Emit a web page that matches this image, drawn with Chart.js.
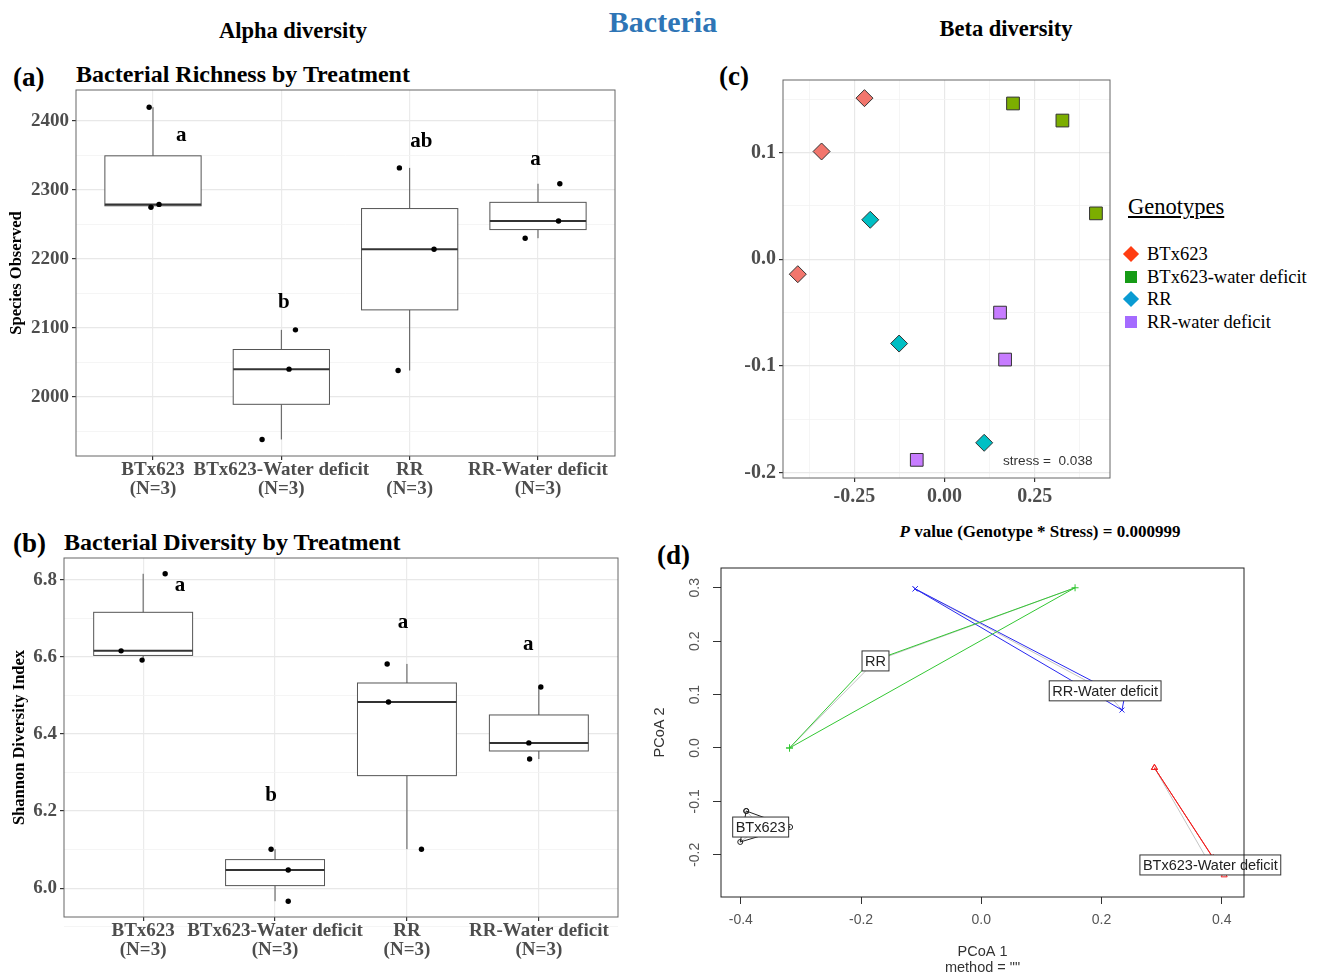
<!DOCTYPE html>
<html lang="en">
<head>
<meta charset="utf-8">
<title>Bacteria - alpha and beta diversity</title>
<script src="https://cdn.jsdelivr.net/npm/chart.js@4.4.1/dist/chart.umd.min.js"></script>
<style>
  html, body { margin: 0; padding: 0; background: #fff; }
  body { position: relative; width: 1324px; height: 973px; overflow: hidden;
         font-family: "Liberation Serif", "Times New Roman", serif; }
  .panel { position: absolute; }
  .label { position: absolute; white-space: nowrap; font-weight: bold; color: #000; line-height: 1; }
  .c { transform: translate(-50%, -50%); }
  .l { transform: translateY(-50%); }
  .legend { position: absolute; left: 1120px; top: 193px; font-size: 18.5px; color: #000; }
  .legend .title { font-size: 22.5px; text-decoration: underline; margin: 0 0 22px 8px; line-height: 28px; }
  .legend .item { position: relative; height: 22.7px; line-height: 22.7px; padding-left: 27px; white-space: nowrap; }
  .legend .sym { position: absolute; left: 5px; top: 5px; width: 12px; height: 12px; }
  .legend .diamond { transform: rotate(45deg) scale(0.95); }
  .note { position: absolute; font-family: "Liberation Sans", Arial, sans-serif; font-size: 13.6px; color: #333; white-space: nowrap; }
</style>
</head>
<body>

<div class="label c" style="left:293px; top:31px; font-size:22.5px">Alpha diversity</div>
<div class="label c" style="left:663px; top:22px; font-size:30px; color:#2E75B6">Bacteria</div>
<div class="label c" style="left:1006px; top:29px; font-size:22.5px">Beta diversity</div>

<div class="label l" style="left:13px; top:77px; font-size:27px">(a)</div>
<div class="label l" style="left:76px; top:74px; font-size:24px">Bacterial Richness by Treatment</div>
<div class="label l" style="left:13px; top:543px; font-size:27px">(b)</div>
<div class="label l" style="left:64px; top:542px; font-size:24px">Bacterial Diversity by Treatment</div>
<div class="label l" style="left:719px; top:76px; font-size:27px">(c)</div>
<div class="label l" style="left:657px; top:555px; font-size:27px">(d)</div>
<div class="label c" style="left:1040px; top:531px; font-size:17px"><i>P</i> value (Genotype * Stress) = 0.000999</div>

<div class="panel"><canvas id="richness"></canvas></div>
<div class="panel"><canvas id="shannon"></canvas></div>
<div class="panel"><canvas id="nmds"></canvas></div>
<div class="panel"><canvas id="pcoa"></canvas></div>

<div class="legend" id="genotypeLegend"><div class="title">Genotypes</div></div>
<div class="note" style="left:1003px; top:453px">stress =&nbsp; 0.038</div>

<script>
// ===== (a) richness per treatment =====
const treatments = ['BTx623', 'BTx623-Water deficit', 'RR', 'RR-Water deficit'];
const sampleSizes = ['(N=3)', '(N=3)', '(N=3)', '(N=3)'];
const richness = [[2420, 2275, 2279], [2097, 2040, 1938], [2332, 2214, 2038], [2309, 2255, 2230]];
const richnessJitter = [[-0.03, -0.016, 0.047], [0.11, 0.06, -0.15], [-0.08, 0.19, -0.09], [0.17, 0.16, -0.10]];
const richnessLetters = ['a', 'b', 'ab', 'a'];
const richnessLetterX = [1.22, 2.02, 3.09, 3.98];
const richnessLetterY = [2381, 2138, 2372, 2345];
const richnessTicks = [2000, 2100, 2200, 2300, 2400];
const richnessMinor = [1950, 2050, 2150, 2250, 2350];

// ===== (b) shannon per treatment =====
const shannon = [[6.816, 6.616, 6.592], [6.101, 6.047, 5.966], [6.582, 6.483, 6.101], [6.522, 6.377, 6.335]];
const shannonJitter = [[0.167, -0.167, -0.008], [-0.03, 0.10, 0.10], [-0.15, -0.14, 0.11], [0.015, -0.076, -0.07]];
const shannonLetters = ['a', 'b', 'a', 'a'];
const shannonLetterX = [1.28, 1.97, 2.97, 3.92];
const shannonLetterY = [6.787, 6.242, 6.693, 6.636];
const shannonTicks = [6.0, 6.2, 6.4, 6.6, 6.8];
const shannonMinor = [5.9, 6.1, 6.3, 6.5, 6.7];

// ===== (c) NMDS =====
const genotypes = ['BTx623', 'BTx623-water deficit', 'RR', 'RR-water deficit'];
const nmdsX = [[-0.222, -0.341, -0.407], [0.190, 0.327, 0.420], [-0.206, -0.126, 0.110], [0.154, 0.168, -0.077]];
const nmdsY = [[0.151, 0.101, -0.014], [0.146, 0.130, 0.043], [0.037, -0.079, -0.172], [-0.050, -0.094, -0.188]];
const nmdsFill = ['#F2766D', '#7CAE00', '#00BFC4', '#C77CFF'];
const nmdsShapes = ['rectRot', 'rect', 'rectRot', 'rect'];
const legendFill = ['#FF3D12', '#169B16', '#0A9BD2', '#A46BFF'];
const nmdsTicksX = [-0.25, 0, 0.25];
const nmdsMinorX = [-0.375, -0.125, 0.125, 0.375];
const nmdsTicksY = [-0.2, -0.1, 0, 0.1];
const nmdsMinorY = [-0.15, -0.05, 0.05, 0.15];

// ===== (d) PCoA =====
const pcoaGroups = ['BTx623', 'RR', 'RR-Water deficit', 'BTx623-Water deficit'];
const pcoaX = [[-0.391, -0.318, -0.401], [-0.319, -0.185, 0.156], [-0.110, 0.238, 0.234], [0.288, 0.386, 0.404]];
const pcoaY = [[-0.118, -0.148, -0.176], [0.000, 0.161, 0.300], [0.298, 0.094, 0.071], [-0.037, -0.206, -0.238]];
const pcoaLabelX = [-0.367, -0.176, 0.206, 0.381];
const pcoaLabelY = [-0.148, 0.163, 0.107, -0.219];
const pcoaColors = ['#222222', '#33C733', '#2828F0', '#F02020'];
const pcoaMarkers = ['circle', 'cross', 'crossRot', 'triangle'];
const pcoaTicksX = [-0.4, -0.2, 0.0, 0.2, 0.4];
const pcoaTicksY = [-0.2, -0.1, 0.0, 0.1, 0.2, 0.3];

const SERIF = '"Liberation Serif", "Times New Roman", serif';
const SANS = '"Liberation Sans", Arial, sans-serif';

Chart.defaults.font.family = SERIF;
Chart.defaults.color = '#4d4d4d';
Chart.defaults.animation = false;
Chart.defaults.plugins.legend.display = false;
Chart.defaults.plugins.tooltip.enabled = false;

// R type-7 quantile
function quantile(sorted, p) {
    const h = (sorted.length - 1) * p;
    const lo = Math.floor(h);
    return sorted[lo] + (h - lo) * (sorted[Math.ceil(h)] - sorted[lo]);
}

function boxStats(values) {
    const s = [...values].sort((a, b) => a - b);
    const q1 = quantile(s, 0.25), med = quantile(s, 0.5), q3 = quantile(s, 0.75);
    const iqr = q3 - q1;
    const inside = s.filter(v => v >= q1 - 1.5 * iqr && v <= q3 + 1.5 * iqr);
    return { q1, med, q3, lo: inside[0], hi: inside[inside.length - 1] };
}

// boxes + whiskers, drawn under the jittered points
const boxPlotPlugin = {
    id: 'boxPlot',
    beforeDatasetsDraw(chart, args, opts) {
        if (!opts.groups) return;
        const { ctx, scales: { x, y } } = chart;
        ctx.save();
        opts.groups.forEach((vals, i) => {
            const s = boxStats(vals);
            const cx = x.getPixelForValue(i + 1);
            const hw = x.getPixelForValue(i + 1 + opts.width / 2) - cx;
            const top = y.getPixelForValue(s.q3), bot = y.getPixelForValue(s.q1);
            ctx.strokeStyle = '#555';
            ctx.lineWidth = 1;
            ctx.beginPath();
            ctx.moveTo(cx, top); ctx.lineTo(cx, y.getPixelForValue(s.hi));
            ctx.moveTo(cx, bot); ctx.lineTo(cx, y.getPixelForValue(s.lo));
            ctx.stroke();
            ctx.fillStyle = '#fff';
            ctx.fillRect(cx - hw, top, 2 * hw, bot - top);
            ctx.strokeRect(cx - hw, top, 2 * hw, bot - top);
            ctx.strokeStyle = '#333';
            ctx.lineWidth = 2;
            const m = y.getPixelForValue(s.med);
            ctx.beginPath();
            ctx.moveTo(cx - hw, m); ctx.lineTo(cx + hw, m);
            ctx.stroke();
        });
        ctx.restore();
    }
};

// text placed at data coordinates (letters, group labels)
const dataTextPlugin = {
    id: 'dataText',
    afterDatasetsDraw(chart, args, opts) {
        if (!opts.items) return;
        const { ctx, scales: { x, y } } = chart;
        ctx.save();
        ctx.font = opts.font;
        ctx.textAlign = 'center';
        ctx.textBaseline = 'middle';
        opts.items.forEach(it => {
            const px = x.getPixelForValue(it.x), py = y.getPixelForValue(it.y);
            if (opts.boxed) {
                const w = ctx.measureText(it.text).width + 6, h = opts.boxHeight;
                ctx.fillStyle = '#fff';
                ctx.fillRect(px - w / 2, py - h / 2, w, h);
                ctx.strokeStyle = '#333';
                ctx.lineWidth = 1;
                ctx.strokeRect(px - w / 2, py - h / 2, w, h);
            }
            ctx.fillStyle = opts.color;
            ctx.fillText(it.text, px, py + 1);
        });
        ctx.restore();
    }
};

// panel border
const framePlugin = {
    id: 'frame',
    afterDatasetsDraw(chart, args, opts) {
        if (!opts.color) return;
        const { ctx, chartArea: a } = chart;
        ctx.save();
        ctx.strokeStyle = opts.color;
        ctx.lineWidth = opts.width || 1;
        ctx.strokeRect(a.left, a.top, a.right - a.left, a.bottom - a.top);
        ctx.restore();
    }
};

// base-R style rotated labels on the left axis
const sideTicksPlugin = {
    id: 'sideTicks',
    afterDraw(chart, args, opts) {
        if (!opts.values) return;
        const { ctx, scales: { y }, chartArea } = chart;
        ctx.save();
        ctx.font = opts.font;
        ctx.fillStyle = opts.color;
        ctx.textAlign = 'center';
        ctx.textBaseline = 'middle';
        opts.values.forEach(v => {
            ctx.save();
            ctx.translate(chartArea.left - opts.offset, y.getPixelForValue(v));
            ctx.rotate(-Math.PI / 2);
            ctx.fillText(v.toFixed(1), 0, 0);
            ctx.restore();
        });
        ctx.restore();
    }
};

function mixTicks(major, minor) {
    return major.map(v => ({ value: v, minor: false }))
        .concat(minor.map(v => ({ value: v, minor: true })))
        .sort((a, b) => a.value - b.value);
}

// ggplot theme_bw-like continuous axis
function ggAxis(min, max, major, minor, fmt, size) {
    return {
        type: 'linear', min, max,
        afterBuildTicks: s => { s.ticks = mixTicks(major, minor); },
        border: { display: false },
        grid: {
            color: c => (c.tick && c.tick.minor ? '#f3f3f3' : '#e8e8e8'),
            lineWidth: c => (c.tick && c.tick.minor ? 0.8 : 1.2),
            tickLength: 4,
            tickColor: c => (c.tick && c.tick.minor ? 'rgba(0,0,0,0)' : '#333')
        },
        ticks: {
            autoSkip: false, padding: 3, color: '#4d4d4d',
            font: { size, weight: 'bold' },
            callback: (v, i, ts) => (ts[i].minor ? '' : fmt(v))
        }
    };
}

// pin the plot area to fixed page pixels
function placeChart(canvasId, box, area, config) {
    const canvas = document.getElementById(canvasId);
    Object.assign(canvas.parentNode.style, {
        left: box.left + 'px', top: box.top + 'px',
        width: box.width + 'px', height: box.height + 'px'
    });
    config.options.responsive = true;
    config.options.maintainAspectRatio = false;
    config.options.layout = { padding: { top: area.top - box.top, right: box.left + box.width - area.right, left: 0, bottom: 0 } };
    config.options.scales.x.afterFit = s => {
        s.height = box.top + box.height - area.bottom;
        s.paddingLeft = 0; s.paddingRight = 0;
    };
    config.options.scales.y.afterFit = s => {
        s.width = area.left - box.left;
        s.paddingTop = 0; s.paddingBottom = 0;
    };
    return new Chart(canvas, config);
}

function boxPlotChart(canvasId, box, area, values, jitter, letters, letterX, letterY, yAxis, yTitle, titlePad) {
    const points = values.flatMap((vals, g) => vals.map((v, k) => ({ x: g + 1 + jitter[g][k], y: v })));
    yAxis.title = { display: true, text: yTitle, color: '#000', font: { size: 16.5, weight: 'bold' }, padding: { top: titlePad, bottom: 0 } };
    return placeChart(canvasId, box, area, {
        type: 'scatter',
        data: { datasets: [{ data: points, pointRadius: 2.7, pointBackgroundColor: '#000', pointBorderWidth: 0 }] },
        options: {
            scales: {
                x: {
                    type: 'linear', min: 0.4, max: 4.6,
                    afterBuildTicks: s => { s.ticks = treatments.map((_, i) => ({ value: i + 1 })); },
                    border: { display: false },
                    grid: { color: '#ebebeb', lineWidth: 1.2, tickLength: 4, tickColor: '#333' },
                    ticks: {
                        autoSkip: false, minRotation: 0, maxRotation: 0, padding: 1, color: '#4d4d4d',
                        font: { size: 19, weight: 'bold', lineHeight: 1.0 },
                        callback: v => [treatments[v - 1], sampleSizes[v - 1]]
                    }
                },
                y: yAxis
            },
            plugins: {
                boxPlot: { groups: values, width: 0.75 },
                dataText: {
                    font: 'bold 21px ' + SERIF, color: '#000',
                    items: letters.map((t, i) => ({ text: t, x: letterX[i], y: letterY[i] }))
                },
                frame: { color: '#666' }
            }
        },
        plugins: [boxPlotPlugin, dataTextPlugin, framePlugin]
    });
}

// (a)
boxPlotChart('richness',
    { left: 0, top: 86, width: 640, height: 420 },
    { left: 76, top: 90, right: 615, bottom: 456 },
    richness, richnessJitter, richnessLetters, richnessLetterX, richnessLetterY,
    ggAxis(1914, 2445, richnessTicks, richnessMinor, v => String(v), 19),
    'Species Observed', 7);

// (b)
boxPlotChart('shannon',
    { left: 0, top: 552, width: 640, height: 421 },
    { left: 64, top: 558, right: 618, bottom: 917 },
    shannon, shannonJitter, shannonLetters, shannonLetterX, shannonLetterY,
    ggAxis(5.925, 6.857, shannonTicks, shannonMinor, v => v.toFixed(1), 19),
    'Shannon Diversity Index', 10);

// (c)
placeChart('nmds',
    { left: 700, top: 70, width: 420, height: 440 },
    { left: 783, top: 79, right: 1113, bottom: 478 },
    {
        type: 'scatter',
        data: {
            datasets: genotypes.map((g, i) => ({
                label: g,
                data: nmdsX[i].map((x, k) => ({ x, y: nmdsY[i][k] })),
                pointStyle: nmdsShapes[i],
                pointRadius: nmdsShapes[i] === 'rect' ? 9 : 8.5,
                pointBackgroundColor: nmdsFill[i],
                pointBorderColor: '#333',
                pointBorderWidth: 1
            }))
        },
        options: {
            scales: {
                x: ggAxis(-0.448, 0.459, nmdsTicksX, nmdsMinorX, v => v.toFixed(2), 20),
                y: ggAxis(-0.205, 0.168, nmdsTicksY, nmdsMinorY, v => v.toFixed(1), 20)
            },
            plugins: { frame: { color: '#666' } }
        },
        plugins: [framePlugin]
    });

// legend for (c)
const legendBox = document.getElementById('genotypeLegend');
genotypes.forEach((g, i) => {
    const item = document.createElement('div');
    item.className = 'item';
    const sym = document.createElement('span');
    sym.className = 'sym' + (nmdsShapes[i] === 'rectRot' ? ' diamond' : '');
    sym.style.background = legendFill[i];
    item.appendChild(sym);
    item.appendChild(document.createTextNode(g));
    legendBox.appendChild(item);
});

// (d)
const centre = i => ({ x: pcoaLabelX[i], y: pcoaLabelY[i] });
const gap = { x: NaN, y: NaN };
const hulls = pcoaGroups.map((g, i) => {
    const pts = pcoaX[i].map((x, k) => ({ x, y: pcoaY[i][k] }));
    return {
        label: g,
        data: pts.concat([pts[0]]),
        showLine: true,
        borderColor: pcoaColors[i],
        borderWidth: 1,
        pointStyle: pcoaMarkers[i],
        pointRadius: pcoaMarkers[i] === 'circle' ? 2.5 : 3.5,
        pointBorderColor: pcoaColors[i],
        pointBackgroundColor: 'rgba(0,0,0,0)',
        pointBorderWidth: 1,
        clip: false
    };
});
const spiders = pcoaGroups.map((g, i) => ({
    label: g + ' spider',
    data: pcoaX[i].flatMap((x, k) => [centre(i), { x, y: pcoaY[i][k] }, gap]),
    showLine: true,
    spanGaps: false,
    borderColor: '#c4c4c4',
    borderWidth: 1,
    pointRadius: 0
}));

placeChart('pcoa',
    { left: 640, top: 560, width: 684, height: 416 },
    { left: 721, top: 568, right: 1244, bottom: 897 },
    {
        type: 'scatter',
        data: { datasets: hulls.concat(spiders) },
        options: {
            scales: {
                x: {
                    type: 'linear', min: -0.433, max: 0.437,
                    afterBuildTicks: s => { s.ticks = pcoaTicksX.map(v => ({ value: v })); },
                    border: { display: false },
                    grid: { drawOnChartArea: false, tickLength: 7, tickColor: '#333' },
                    ticks: { autoSkip: false, padding: 8, color: '#555', font: { family: SANS, size: 14 }, callback: v => v.toFixed(1) },
                    title: { display: true, text: ['PCoA 1', 'method = ""'], color: '#333', font: { family: SANS, size: 14.5, lineHeight: 1.1 }, padding: { top: 0, bottom: 0 } }
                },
                y: {
                    type: 'linear', min: -0.279, max: 0.337,
                    afterBuildTicks: s => { s.ticks = pcoaTicksY.map(v => ({ value: v })); },
                    border: { display: false },
                    grid: { drawOnChartArea: false, tickLength: 8, tickColor: '#333' },
                    ticks: { display: false },
                    title: { display: true, text: 'PCoA 2', color: '#333', font: { family: SANS, size: 14.5 }, padding: { top: 11, bottom: 0 } }
                }
            },
            plugins: {
                dataText: {
                    font: '14.5px ' + SANS, color: '#222', boxed: true, boxHeight: 20,
                    items: pcoaGroups.map((t, i) => ({ text: t, x: pcoaLabelX[i], y: pcoaLabelY[i] }))
                },
                sideTicks: { values: pcoaTicksY, offset: 26, font: '14px ' + SANS, color: '#555' },
                frame: { color: '#222' }
            }
        },
        plugins: [dataTextPlugin, sideTicksPlugin, framePlugin]
    });
</script>
</body>
</html>
